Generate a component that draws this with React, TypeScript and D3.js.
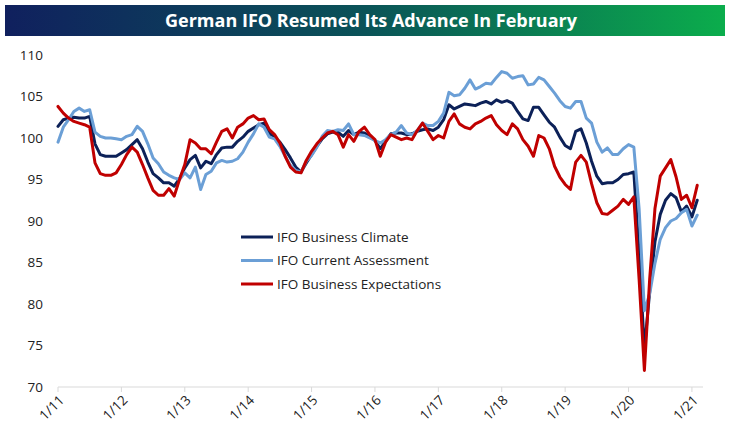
import React from 'react';
import * as d3 from 'd3';

// monthly readings, Jan 2011 .. Feb 2021
const climate = [
  101.4, 102.2, 102.4, 102.5, 102.4, 102.4, 102.6, 99.3, 98.0, 97.8, 97.8, 97.8,
  98.2, 98.6, 99.2, 99.8, 98.7, 97.1, 95.7, 95.2, 94.6, 94.6, 94.2, 95.1,
  96.4, 97.4, 97.9, 96.4, 97.2, 96.9, 98.0, 98.8, 98.9, 98.9, 99.6, 100.1,
  100.8, 101.2, 101.6, 101.8, 100.6, 100.1, 99.5, 98.6, 97.6, 96.5, 95.9, 97.0,
  98.0, 99.0, 99.9, 100.5, 100.7, 100.7, 100.2, 100.9, 100.4, 100.7, 100.6, 100.2,
  99.7, 98.7, 99.6, 100.5, 100.6, 100.6, 100.4, 100.5, 100.8, 101.0, 101.1, 100.9,
  101.3, 102.2, 104.0, 103.5, 103.8, 104.1, 104.0, 103.9, 104.2, 104.4, 104.1, 104.6,
  104.3, 104.5, 104.2, 103.2, 102.3, 102.1, 103.7, 103.7, 102.8, 101.9, 101.3, 100.1,
  99.1, 98.7, 100.8, 101.1, 99.4, 97.2, 95.4, 94.5, 94.6, 94.6, 95.0, 95.6,
  95.7, 95.9, 86.0, 74.5, 81.5, 87.5, 90.8, 92.5, 93.3, 92.8, 91.1, 91.8,
  90.5, 92.5,
];

const current = [
  99.5, 101.3, 102.2, 103.2, 103.6, 103.2, 103.4, 100.7, 100.2, 100.0, 100.0, 99.9,
  99.8, 100.2, 100.4, 101.4, 100.8, 99.3, 97.6, 96.9, 95.9, 95.5, 95.2, 95.0,
  95.8, 95.2, 96.5, 93.8, 95.6, 96.0, 97.0, 97.3, 97.1, 97.2, 97.5, 98.3,
  99.5, 100.5, 101.7, 101.3, 100.1, 99.9, 99.0, 97.8, 96.7, 96.1, 95.9, 97.2,
  97.9, 98.9, 100.2, 100.9, 100.8, 101.0, 100.9, 101.7, 100.4, 100.4, 100.3, 100.0,
  99.7, 99.4, 99.8, 100.4, 100.7, 101.5, 100.6, 100.4, 100.9, 101.8, 101.5, 101.5,
  102.0, 103.0, 105.5, 105.1, 105.2, 106.0, 107.0, 105.9, 106.2, 106.6, 106.5, 107.3,
  108.0, 107.8, 107.2, 107.4, 107.5, 106.4, 106.5, 107.3, 107.0, 106.2, 105.4, 104.5,
  103.8, 103.6, 104.4, 104.4, 102.4, 101.8, 99.5, 98.3, 98.8, 98.0, 98.0, 98.7,
  99.2, 98.9, 91.5, 79.2, 81.2, 84.9, 87.8, 89.2, 90.0, 90.3, 91.0, 91.4,
  89.4, 90.7,
];

const expectations = [
  103.8, 103.0, 102.4, 102.0, 101.8, 101.6, 101.3, 97.0, 95.7, 95.5, 95.5, 95.8,
  96.8, 98.0, 98.9, 98.3, 96.8, 95.2, 93.7, 93.1, 93.1, 93.9, 93.0, 95.0,
  96.8, 99.8, 99.4, 98.7, 98.7, 98.1, 99.5, 100.8, 101.1, 100.0, 101.3, 101.7,
  102.4, 102.7, 102.2, 102.3, 101.0, 100.4, 99.4, 97.8, 96.5, 95.9, 95.8, 97.3,
  98.4, 99.3, 100.0, 100.6, 100.8, 100.4, 98.9, 100.4, 99.6, 100.8, 101.3, 100.4,
  99.8, 97.8, 99.5, 100.4, 100.1, 99.8, 100.0, 99.8, 100.9, 101.8, 100.8, 99.8,
  100.3, 100.0, 102.0, 102.9, 101.7, 101.3, 101.1, 101.7, 102.0, 102.4, 102.7, 101.6,
  100.9, 100.4, 101.7, 101.1, 99.8, 99.0, 97.8, 100.3, 100.0, 98.7, 96.6, 95.3,
  94.4, 93.8, 97.1, 97.9, 97.1, 94.5, 92.2, 90.9, 90.8, 91.3, 91.8, 92.6,
  92.0, 92.9, 83.0, 72.0, 83.0, 91.5, 95.4, 96.4, 97.4, 95.3, 92.6, 93.1,
  91.6, 94.3,
];

const seriesNames = ['IFO Business Climate', 'IFO Current Assessment', 'IFO Business Expectations'];
const seriesColors = ['#0c2158', '#6b9fd6', '#c00000'];
const yTicks = [70, 75, 80, 85, 90, 95, 100, 105, 110];
const xTickLabels = ['1/11', '1/12', '1/13', '1/14', '1/15', '1/16', '1/17', '1/18', '1/19', '1/20', '1/21'];

const W = 730;
const H = 434;
const font = "'Open Sans', 'Noto Sans', sans-serif";

const App = () => {
  const x = d3.scaleLinear().domain([0, 122]).range([58, 702.5]);
  const y = d3.scaleLinear().domain([70, 110]).range([387, 55]);
  const line = d3.line<number>().x((d, i) => x(i)).y(d => y(d));
  const series = [climate, current, expectations];

  return (
    <svg width={W} height={H} style={{ position: 'absolute', left: 0, top: 0, background: '#fff' }}>
      <defs>
        <linearGradient id="banner" x1="0" x2="1" y1="0" y2="0">
          <stop offset="0%" stopColor="#10205e" />
          <stop offset="50%" stopColor="#0a5358" />
          <stop offset="100%" stopColor="#0bad4c" />
        </linearGradient>
      </defs>
      <rect x={5} y={5} width={720} height={31} fill="url(#banner)" />
      <text x={371} y={27} textAnchor="middle" fill="#fff" fontFamily={font} fontWeight="bold"
        fontSize={18.5} textLength={412} lengthAdjust="spacingAndGlyphs">
        German IFO Resumed Its Advance In February
      </text>

      {/* y labels */}
      {yTicks.map(t => (
        <text key={t} x={43} y={y(t)} dy="0.35em" textAnchor="end" fontFamily={font} fontSize={13.5} fill="#222">{t}</text>
      ))}

      {/* x axis */}
      <line x1={58} x2={703} y1={387} y2={387} stroke="#d9d9d9" strokeWidth={1} />
      {xTickLabels.map((lab, i) => {
        const xt = x(i * 12);
        return (
          <g key={lab}>
            <line x1={xt} x2={xt} y1={387} y2={392} stroke="#d9d9d9" />
            <text transform={`translate(${xt + 7},${401}) rotate(-45)`} textAnchor="end"
              fontFamily={font} fontSize={13.5} fill="#222">{lab}</text>
          </g>
        );
      })}

      {/* lines */}
      {series.map((s, i) => (
        <path key={i} d={line(s) || ''} fill="none" stroke={seriesColors[i]} strokeWidth={3}
          strokeLinejoin="round" strokeLinecap="round" />
      ))}

      {/* legend */}
      {seriesNames.map((n, i) => (
        <g key={n} transform={`translate(241,${237 + i * 23.5})`}>
          <line x1={0} x2={32} y1={0} y2={0} stroke={seriesColors[i]} strokeWidth={3} />
          <text x={36} y={0} dy="0.35em" fontFamily={font} fontSize={13.5} fill="#222">{n}</text>
        </g>
      ))}
    </svg>
  );
};

export default App;
